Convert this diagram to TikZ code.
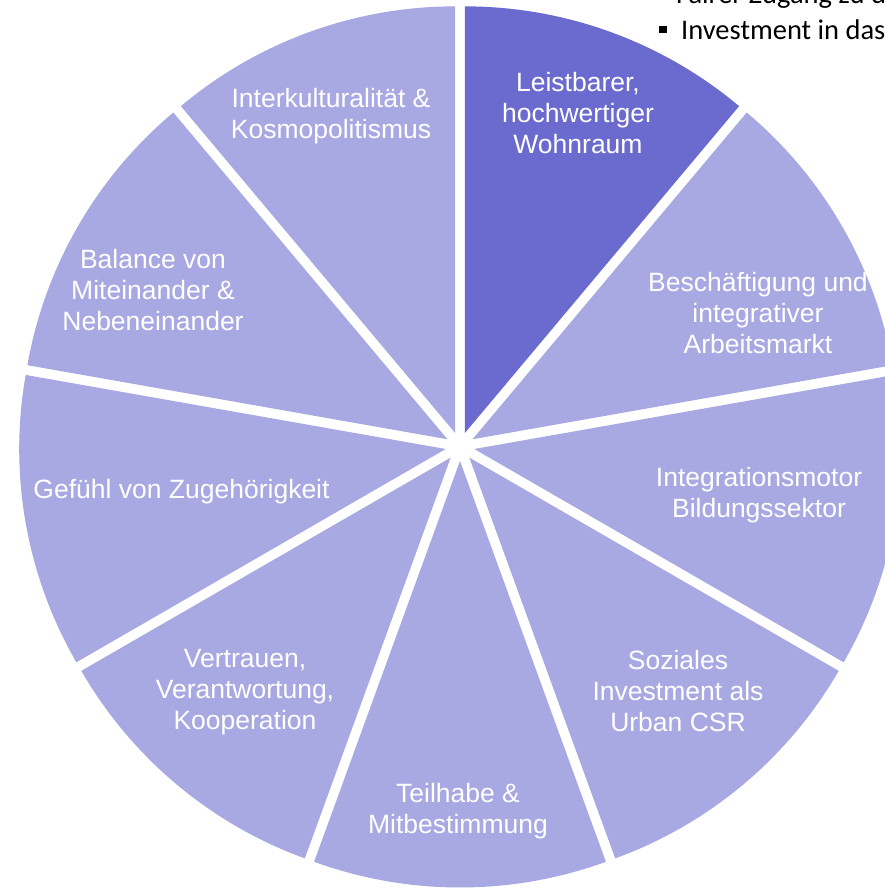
\documentclass[tikz,border=0pt]{standalone}
\usepackage{fontspec}
\setmainfont{Liberation Sans}
\newfontfamily\calibrifont{Carlito}
\usetikzlibrary{calc}
\definecolor{darkslice}{HTML}{6B6BCF}
\definecolor{lightslice}{HTML}{A8A8E2}
\begin{document}
\begin{tikzpicture}[x=1pt,y=1pt,
  slicelabel/.style={text=white,align=center,inner sep=0pt,font=\fontsize{26.5}{31}\selectfont},
  sidetext/.style={text=black,anchor=base west,inner sep=0pt,font=\calibrifont\fontsize{28.5}{33}\selectfont},
  lightpart/.style={fill=lightslice,draw=none},
  darkpart/.style={fill=darkslice,draw=none}]
\useasboundingbox (0,0) rectangle (885,888);
\clip (0,0) rectangle (885,888);
\fill[white] (0,0) rectangle (885,888);
\def\R{426.5}
\def\D{14.5}
\coordinate (c) at (460,441.5);
\foreach \i in {0,...,8}{
  \pgfmathsetmacro\aone{50-40*\i}
  \pgfmathsetmacro\atwo{90-40*\i}
  \pgfmathsetmacro\bis{70-40*\i}
  \ifnum\i=0 \def\st{darkpart}\else\def\st{lightpart}\fi
  \path[\st] ($(c)+(\bis:\D)$) -- ++(\aone:\R) arc[start angle=\aone, end angle=\atwo, radius=\R] -- cycle;
}
\node[slicelabel] (s1) at (578,775) {Leistbarer,\\hochwertiger\\Wohnraum};
\node[slicelabel] (s2) at (758,575) {Beschäftigung und\\integrativer\\Arbeitsmarkt};
\node[slicelabel] (s3) at (759,393) {Integrationsmotor\\Bildungssektor};
\node[slicelabel] (s4) at (678,197) {Soziales\\Investment als\\Urban CSR};
\node[slicelabel] (s5) at (458,77) {Teilhabe \&\\Mitbestimmung};
\node[slicelabel] (s6) at (245,196) {Vertrauen,\\Verantwortung,\\Kooperation};
\node[slicelabel] (s7) at (181.5,396) {Gefühl von Zugehörigkeit};
\node[slicelabel] (s8) at (153,598) {Balance von\\Miteinander \&\\Nebeneinander};
\node[slicelabel] (s9) at (331,771.5) {Interkulturalität \&\\Kosmopolitismus};
\node[sidetext] (t1) at (676,884) {Fairer Zugang zu den};
\node[sidetext] (t2) at (681,848.7) {Investment in das};
\node[fill=black,inner sep=0pt,minimum width=8pt,minimum height=7pt] (b2) at (663,858.5) {};
\end{tikzpicture}
\end{document}
